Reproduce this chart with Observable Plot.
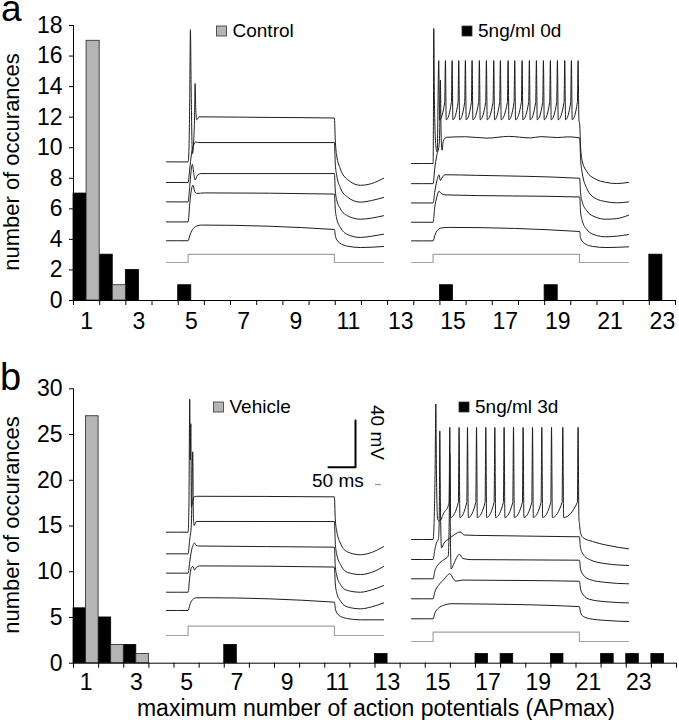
<!DOCTYPE html>
<html><head><meta charset="utf-8">
<script src="https://cdn.jsdelivr.net/npm/d3@7"></script>
<script src="https://cdn.jsdelivr.net/npm/@observablehq/plot@0.6"></script>
<style>
body{margin:0;background:#fff;font-family:"Liberation Sans",Arial,sans-serif;}
#fig{position:relative;width:679px;height:720px;overflow:hidden;background:#fff;}
#fig > svg{position:absolute;}
</style></head><body><div id="fig"></div>
<script>
// ---------------- Histogram data ----------------
const binsA = [1,2,3,4,5,6,7,8,9,10,11,12,13,14,15,16,17,18,19,20,21,22,23];
const controlA = [17,1,0,0,0,0,0,0,0,0,0,0,0,0,0,0,0,0,0,0,0,0,0];
const ng0dA    = [7,3,2,0,1,0,0,0,0,0,0,0,0,0,1,0,0,0,1,0,0,0,3];
const binsB = [1,2,3,4,5,6,7,8,9,10,11,12,13,14,15,16,17,18,19,20,21,22,23,24];
const vehicleB = [27,2,1,0,0,0,0,0,0,0,0,0,0,0,0,0,0,0,0,0,0,0,0,0];
const ng3dB    = [6,5,2,0,0,0,2,0,0,0,0,0,1,0,0,0,1,1,0,1,0,1,1,1];
const xTickLabels = [1,3,5,7,9,11,13,15,17,19,21,23];
const yTicksA = [0,2,4,6,8,10,12,14,16,18];
const yTicksB = [0,5,10,15,20,25,30];

// ---------------- Trace data (t in ms from step onset, v in mV, offset traces) ----------------
const cmdA = [[-40,0],[0,0],[0,7],[271,7],[271,0],[362,0]];
const cmdB = [[-40,0],[0,0],[0,8],[271,8],[271,0],[362,0]];

// Panel a, Control
const ctrlA1 = [[-40,86],[0,86],[1.5,95],[3,140],[4.3,199],[5.6,150],[8,93],[10.5,105],[12,125],[13,153],[14.2,130],[16,122],[20,124.5],[150,124],[271,123.5],[272.5,105],[275,92],[282,80],[295,71],[319,66],[340,67.5],[362,72]];
const ctrlA2 = [[-40,68.4],[0,68.4],[3,80],[6,92],[10,100],[14,103],[20,102.5],[271,102.5],[272.5,85],[275,75],[282,64],[295,56],[319,51.6],[340,53],[362,55.6]];
const ctrlA3 = [[-40,51.8],[0,51.8],[3,65],[6,80],[8,84],[10.5,76],[13,70.5],[17,74.5],[24,76],[271,76],[272.5,62],[275,54],[282,46],[295,40],[319,37],[340,38],[362,40]];
const ctrlA4 = [[-40,34.7],[0,34.7],[3,50],[6,62],[9,66],[12,61],[16,59],[30,59.5],[271,58.5],[272.5,46],[275,38],[282,30],[295,24],[319,21.4],[340,22.5],[362,24.2]];
const ctrlA5 = [[-40,18.6],[0,18.6],[3,23],[8,28],[15,31],[25,32],[271,28.2],[273,22],[280,17],[295,14],[319,12.8],[362,13.7]];

// Panel a, 5ng/ml 0d
const pre0d = [[-40,84.6],[0,84.6],[0.6,120],[1.2,200],[2.4,140],[5,100],[7.4,94.5],[8.6,115]];
const spikes0d = [10.4,22.8,35.2,47.5,59.8,72.2,85.7,98.7,112.3,124.6,138.9,151.2,164.8,178.3,191.3,204.3,217.2,230.2,243.8,256.1,268.5];
const spikeLevels0d = {peak:172.6, trough:122, thr:137};
const post0d = [[271.5,118],[273,100],[276,87],[285,77.5],[300,71.5],[320,68.5],[340,67.5],[362,68.5]];
const ng0d2 = [[-40,67.4],[0,67.4],[3,80],[7,92],[11,100],[12.5,120],[13.5,156],[14.8,110],[16.5,96],[19,104],[25,107],[60,107.5],[100,106.3],[140,107.8],[180,106.5],[200,107.6],[230,106.8],[250,107.4],[271.5,106.5],[273,90],[276,77],[285,63],[300,55],[320,52],[340,51],[362,51.8]];
const ng0d3 = [[-40,50.9],[0,50.9],[3,60],[7,70],[11,75],[13.5,70],[16,72],[22,75],[80,74.5],[271.5,72],[273,60],[276,52],[285,44],[300,39],[320,37],[340,37.5],[362,40.4]];
const ng0d4 = [[-40,34.4],[0,34.4],[3,47],[7,56],[11,61],[15,59],[22,57.8],[271.5,56],[273,44],[276,36],[285,28],[300,23.5],[320,22],[340,22.5],[362,23.9]];
const ng0d5 = [[-40,18.5],[0,18.5],[3,23],[8,27.5],[15,29.5],[30,30],[271.5,26.5],[273,21],[280,16.5],[295,13.8],[320,12.8],[362,13.4]];

// Panel b, Vehicle
const veh1 = [[-40,88.3],[0,88.3],[1.5,110],[3,202],[4,150],[5,181],[6.1,110],[7.5,112],[10,118],[15,119],[271,118.5],[272.5,100],[275,90],[283,78],[295,71.5],[319,69],[340,71],[362,76]];
const veh2 = [[-40,69.8],[0,69.8],[3,82],[6,95],[8.6,157],[9.8,100],[11.5,94],[15,97.5],[271,97.4],[272.5,80],[275,70],[283,60],[295,54],[319,52.1],[340,54],[362,59]];
const veh3 = [[-40,53.3],[0,53.3],[3,63],[6,72],[9,77],[12,79],[15,77],[20,76.5],[271,75.5],[272.5,60],[275,52],[283,43],[295,38.5],[319,37],[340,39],[362,42.7]];
const veh4 = [[-40,37],[0,37],[3,50],[6,58],[9,59],[12,56],[15,58],[22,59.5],[271,58.5],[272.5,45],[275,37],[283,29],[295,24.5],[319,22.8],[340,24.5],[362,27.9]];
const veh5 = [[-40,21.4],[0,21.4],[3,26],[8,30.5],[15,32.2],[30,32.3],[271,28.5],[273,22],[280,17],[295,14.5],[319,13.4],[362,13.4]];
const scaleBar = [[260,143.8],[310,143.8],[310,183.8]]; // 50 ms, 40 mV

// Panel b, 5ng/ml 3d
const pre3d = [[-40,87.2],[0,87.2],[2,105],[3.8,150],[5,203],[6.3,140],[8.5,104],[12,103],[20,110],[28,116]];
const spikes3d = [30.9,48.1,63.7,80.4,97.6,114.3,131.5,148.9,166.7,184.1,201.3,219.3,240.2,268.5];
const spikeLevels3d = {peak:183, trough:106, thr:119};
const post3d = [[271.2,100],[273,93],[277,89],[295,85.5],[320,82.5],[362,79.2]];
const ng3d2 = [[-40,70.1],[0,70.1],[3,78],[6,84],[10,88],[11.5,110],[12.4,180],[13.5,120],[15.5,80],[20,84],[30,88],[40,91.5],[50,93.6],[58,91],[80,90.7],[271,89.5],[272.5,82],[276,76],[290,70],[320,66.5],[362,65]];
const ng3d3 = [[-40,53.6],[0,53.6],[3,60],[10,66],[20,70],[28,73],[30,110],[30.9,160],[32,90],[33.5,62],[38,66],[44,72],[48.6,74.6],[55,71],[70,70],[271,69.5],[273,62],[278,57],[290,53],[320,50.5],[362,49.3]];
const ng3d4 = [[-40,36.5],[0,36.5],[3,42],[10,48],[20,53],[31,58],[37,54],[42,51.6],[55,52.5],[150,52.2],[271,51.5],[273,45],[278,40],[290,36],[320,34],[362,33]];
const ng3d5 = [[-40,19.4],[0,19.4],[3,24],[10,28.5],[20,31],[35,32.3],[100,32],[271,29.8],[273,25],[278,21.5],[290,19.5],[320,18],[362,17.1]];

function buildTrain(pre, spikes, lv, post) {
  const pts = pre.slice();
  spikes.forEach(t => { pts.push([t - 1.3, lv.thr], [t, lv.peak], [t + 1.5, lv.trough]); });
  return pts.concat(post);
}

// ---------------- Drawing ----------------
const fig = document.getElementById("fig");
const FONT = "Liberation Sans, Arial, sans-serif";

function histogram({bins, grey, black, yMax, yTicks, height, top, marginTop, marginBottom, marginRight, tickPad}) {
  const blackRows = bins.map((b, i) => ({b, n: black[i]})).filter(d => d.n > 0);
  const greyRows = bins.map((b, i) => ({b, n: grey[i]})).filter(d => d.n > 0);
  const bounds = bins.map(b => b - 0.5).concat([bins[bins.length - 1] + 0.5]);
  const svg = Plot.plot({
    width: 679, height, marginLeft: 73, marginRight, marginTop, marginBottom,
    x: {domain: [0.5, bins.length + 0.5]},
    y: {domain: [0, yMax]},
    style: {fontFamily: FONT, fontSize: "23px", background: "transparent", overflow: "visible"},
    marks: [
      Plot.rect(blackRows, {x1: d => d.b - 0.5, x2: d => d.b, y1: 0, y2: "n", fill: "#000", stroke: "#000", strokeWidth: 0.8}),
      Plot.rect(greyRows, {x1: d => d.b, x2: d => d.b + 0.5, y1: 0, y2: "n", fill: "#b5b5b5", stroke: "#222", strokeWidth: 0.8}),
      Plot.ruleY([0], {stroke: "#000", strokeWidth: 1}),
      Plot.ruleX([0.5], {stroke: "#000", strokeWidth: 1}),
      Plot.axisY({ticks: yTicks, tickSize: 4, tickPadding: 7, fontSize: 23, label: null, tickFormat: d => d}),
      Plot.axisX({ticks: xTickLabels, tickSize: 0, tickPadding: tickPad, fontSize: 23, label: null, tickFormat: d => d}),
      Plot.axisX({ticks: bounds, tickSize: 5, tickFormat: () => "", label: null})
    ]
  });
  svg.style.left = "0px";
  svg.style.top = top + "px";
  fig.appendChild(svg);
}

histogram({bins: binsA, grey: controlA, black: ng0dA, yMax: 18, yTicks: yTicksA, height: 340, top: 0, marginTop: 25, marginBottom: 40, marginRight: 4, tickPad: 12});
histogram({bins: binsB, grey: vehicleB, black: ng3dB, yMax: 30, yTicks: yTicksB, height: 380, top: 340, marginTop: 48.3, marginBottom: 57.3, marginRight: 3, tickPad: 10});

const PX_PER_MS = 0.54, PX_PER_MV = 1.17, T_START = -40, T_END = 362, V_MIN = -4, V_MAX = 206;
function inset(cfg) {
  const w = (T_END - T_START) * PX_PER_MS, h = (V_MAX - V_MIN) * PX_PER_MV;
  const line = (data, opts) => Plot.line(data, {x: d => d[0], y: d => d[1], ...opts});
  const marks = [line(cfg.command, {stroke: "#a3a3a3", strokeWidth: 1.2})];
  cfg.traces.forEach(tr => marks.push(line(tr, {curve: "monotone-x", stroke: "#1c1c1c", strokeWidth: 1})));
  if (cfg.bar) marks.push(line(cfg.bar, {stroke: "#000", strokeWidth: 2}));
  const svg = Plot.plot({
    width: w, height: h, margin: 0,
    x: {domain: [T_START, T_END], axis: null},
    y: {domain: [V_MIN, V_MAX], axis: null},
    style: {background: "transparent", overflow: "visible"},
    marks
  });
  svg.style.left = (cfg.onsetX + T_START * PX_PER_MS) + "px";
  svg.style.top = (cfg.refY - V_MAX * PX_PER_MV) + "px";
  fig.appendChild(svg);
}

inset({onsetX: 187.7, refY: 262.3, command: cmdA, traces: [ctrlA1, ctrlA2, ctrlA3, ctrlA4, ctrlA5]});
inset({onsetX: 432.7, refY: 262.3, command: cmdA, traces: [buildTrain(pre0d, spikes0d, spikeLevels0d, post0d), ng0d2, ng0d3, ng0d4, ng0d5]});
inset({onsetX: 187.7, refY: 635, command: cmdB, traces: [veh1, veh2, veh3, veh4, veh5], bar: scaleBar});
inset({onsetX: 432.3, refY: 641, command: cmdB, traces: [buildTrain(pre3d, spikes3d, spikeLevels3d, post3d), ng3d2, ng3d3, ng3d4, ng3d5]});

// ---------------- Text overlay ----------------
const ov = d3.select(fig).append("svg").attr("width", 679).attr("height", 720)
  .style("left", "0px").style("top", "0px").attr("font-family", FONT);
const txt = (x, y, s, size, opts = {}) => {
  const t = ov.append("text").attr("x", x).attr("y", y).attr("font-size", size).attr("fill", "#000").text(s);
  if (opts.anchor) t.attr("text-anchor", opts.anchor);
  if (opts.rotate != null) t.attr("x", 0).attr("y", 0).attr("transform", `translate(${x},${y}) rotate(${opts.rotate})`);
  return t;
};
txt(1, 21, "a", 37);
txt(0, 390, "b", 38);
txt(19, 162, "number of occurances", 22, {anchor: "middle", rotate: -90});
txt(19, 525, "number of occurances", 22, {anchor: "middle", rotate: -90});
txt(376, 716, "maximum number of action potentials (APmax)", 23, {anchor: "middle"});

const legend = (x, y, fill, label) => {
  ov.append("rect").attr("x", x).attr("y", y - 10.5).attr("width", 10).attr("height", 10)
    .attr("fill", fill).attr("stroke", "#333").attr("stroke-width", 0.8);
  txt(x + 16, y, label, 19);
};
legend(216.5, 36.5, "#b5b5b5", "Control");
legend(462, 36.5, "#000", "5ng/ml 0d");
legend(213.5, 412.5, "#b5b5b5", "Vehicle");
legend(459, 412.5, "#000", "5ng/ml 3d");

txt(371, 405, "40 mV", 19, {rotate: 90});
txt(312, 486.7, "50 ms", 19);
ov.append("line").attr("x1", 375).attr("x2", 381).attr("y1", 484.5).attr("y2", 484.5).attr("stroke", "#999").attr("stroke-width", 1.2);
</script></body></html>
